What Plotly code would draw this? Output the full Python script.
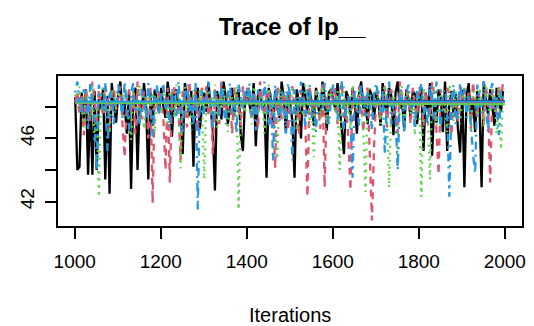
import plotly.graph_objects as go

# Iterations sampled every 5 draws (1001 .. 1996)
iterations = list(range(1001, 2001, 5))

chain1 = [
    48.6, 44.0, 44.2, 48.9, 47.2, 49.1, 43.7, 48.4, 43.7, 49.0, 44.0, 48.5, 47.8, 49.2, 43.4, 48.7, 42.5, 49.5, 48.1, 47.0,
    48.8, 49.6, 47.5, 48.2, 46.3, 49.0, 42.8, 48.6, 49.2, 44.0, 48.3, 47.7, 49.5, 48.0, 43.4, 48.9, 46.8, 49.1, 48.4, 47.6,
    49.2, 48.0, 47.3, 49.6, 48.5, 46.1, 48.8, 49.1, 47.9, 48.3, 45.0, 49.5, 48.6, 47.4, 49.0, 44.2, 48.7, 49.2, 46.6, 48.1,
    48.9, 47.7, 49.5, 48.2, 46.5, 42.7, 49.0, 48.4, 47.2, 49.6, 48.6, 46.9, 48.0, 49.2, 47.5, 48.8, 49.1, 46.2, 45.2, 48.5,
    49.0, 48.3, 47.4, 49.5, 45.5, 48.7, 49.1, 47.8, 48.2, 43.5, 49.2, 48.5, 46.7, 49.0, 48.1, 47.3, 49.6, 48.6, 46.4, 48.9,
    48.2, 47.1, 43.5, 49.1, 48.4, 46.0, 49.5, 48.7, 47.6, 49.0, 48.3, 46.8, 49.2, 48.0, 47.4, 49.6, 48.6, 46.5, 48.9, 49.1,
    48.5, 47.8, 49.5, 48.1, 46.7, 45.0, 49.0, 48.6, 47.5, 49.2, 48.4, 46.3, 48.8, 49.6, 47.9, 48.2, 46.9, 49.1, 48.7, 47.2,
    49.0, 48.4, 46.8, 49.5, 48.1, 47.6, 49.2, 48.7, 46.2, 48.9, 49.6, 47.9, 48.3, 46.6, 49.1, 48.5, 47.3, 49.0, 48.8, 46.9,
    48.6, 49.2, 45.2, 48.9, 47.7, 49.5, 44.9, 48.4, 47.0, 49.1, 48.6, 46.4, 49.6, 45.2, 48.2, 49.0, 47.4, 48.8, 46.6, 45.1,
    49.1, 42.9, 48.7, 49.5, 47.2, 48.5, 46.4, 49.0, 48.2, 42.9, 49.6, 48.6, 47.5, 49.1, 48.0, 46.8, 49.2, 48.4, 47.7, 49.0,
]

chain2 = [
    48.3, 49.0, 47.5, 48.7, 46.2, 49.2, 48.0, 47.1, 49.6, 48.5, 46.8, 49.1, 48.2, 47.4, 49.3, 48.6, 46.5, 48.9, 49.2, 47.8,
    48.6, 49.3, 46.9, 44.8, 48.4, 49.1, 47.6, 48.8, 46.3, 49.6, 48.0, 47.2, 49.0, 48.5, 46.0, 49.2, 41.9, 48.7, 47.9, 49.1,
    48.4, 47.3, 44.0, 49.2, 43.2, 48.8, 49.3, 47.5, 48.1, 44.6, 49.0, 48.6, 46.7, 49.6, 48.2, 47.8, 49.1, 46.4, 48.7, 49.2,
    48.0, 49.3, 47.4, 48.6, 45.0, 49.1, 48.4, 46.9, 49.6, 48.2, 47.6, 49.0, 48.7, 46.3, 49.2, 48.5, 47.9, 46.8, 49.3, 48.1,
    49.2, 48.6, 47.3, 49.0, 48.3, 46.6, 49.6, 48.0, 47.5, 48.8, 49.1, 46.9, 48.4, 44.1, 49.3, 48.7, 47.2, 49.0, 48.2, 46.5,
    48.9, 49.3, 47.6, 48.4, 46.2, 49.1, 48.7, 47.0, 42.3, 49.2, 48.5, 47.4, 49.0, 48.1, 46.6, 49.6, 42.9, 48.6, 47.8, 49.1,
    48.3, 49.2, 46.9, 48.7, 49.6, 47.3, 48.0, 46.1, 42.7, 49.1, 48.5, 47.7, 49.3, 48.2, 46.4, 48.9, 49.2, 44.5, 40.8, 45.5,
    48.6, 49.0, 47.2, 48.4, 49.3, 46.7, 48.8, 49.1, 47.5, 48.2, 46.3, 49.6, 48.7, 47.8, 49.0, 48.4, 46.9, 49.2, 48.0, 47.4,
    49.3, 48.5, 46.8, 49.0, 48.2, 47.3, 49.6, 48.7, 46.5, 43.7, 49.1, 48.3, 47.6, 49.2, 48.8, 46.2, 49.0, 48.4, 47.1, 49.3,
    48.5, 49.2, 47.7, 48.9, 46.6, 49.6, 48.1, 47.4, 49.0, 48.6, 46.9, 49.3, 48.2, 43.2, 49.1, 48.7, 47.5, 49.4, 48.3, 49.6,
]

chain3 = [
    48.8, 47.9, 49.3, 48.1, 46.7, 49.0, 48.5, 47.2, 49.4, 45.8, 48.3, 42.3, 48.9, 49.2, 47.6, 48.4, 46.3, 49.1, 48.7, 47.8,
    49.0, 48.2, 47.4, 49.3, 48.6, 46.9, 45.9, 49.1, 48.0, 47.5, 49.4, 48.7, 46.6, 48.3, 49.2, 47.7, 48.9, 46.4, 49.0, 48.4,
    47.6, 49.2, 48.5, 46.8, 49.0, 48.3, 47.3, 49.4, 48.7, 44.1, 48.1, 49.3, 47.5, 48.8, 46.5, 49.1, 48.4, 47.9, 49.2, 48.0,
    43.4, 48.6, 49.1, 47.4, 48.3, 49.4, 46.7, 48.9, 47.8, 49.2, 48.0, 46.4, 49.0, 48.5, 47.2, 49.3, 41.5, 48.2, 48.8, 47.6,
    49.1, 48.4, 46.9, 49.3, 48.7, 47.5, 48.1, 49.0, 46.3, 48.6, 49.4, 47.8, 48.2, 46.6, 44.7, 49.2, 48.5, 47.1, 49.0, 48.3,
    47.7, 49.2, 48.6, 46.5, 49.0, 48.2, 47.4, 49.4, 48.8, 46.8, 48.0, 44.8, 49.1, 48.5, 47.3, 49.3, 48.1, 46.9, 48.7, 49.2,
    48.4, 47.6, 49.0, 44.0, 48.8, 49.3, 47.2, 48.1, 46.6, 49.4, 48.6, 47.8, 49.1, 48.3, 46.4, 42.6, 48.9, 49.2, 47.5, 48.0,
    49.2, 48.5, 46.9, 48.8, 49.4, 47.3, 42.9, 48.1, 49.0, 47.7, 44.3, 48.6, 49.3, 46.6, 48.3, 49.1, 47.5, 48.7, 46.2, 49.0,
    48.4, 42.3, 49.2, 48.0, 47.4, 43.4, 48.9, 49.3, 46.8, 48.5, 49.1, 47.6, 48.2, 46.4, 49.4, 48.7, 47.1, 49.0, 48.3, 46.9,
    48.6, 49.3, 47.8, 48.1, 46.5, 49.0, 48.7, 47.4, 49.2, 48.4, 46.7, 49.4, 48.0, 47.6, 49.1, 48.5, 46.3, 49.2, 45.3, 48.8,
]

chain4 = [
    48.9, 49.6, 48.2, 47.5, 49.1, 48.7, 46.6, 49.5, 48.4, 47.0, 43.9, 49.4, 48.6, 47.7, 49.5, 45.2, 48.8, 49.0, 46.9, 48.3,
    49.4, 48.5, 47.3, 49.6, 48.0, 46.5, 48.9, 49.5, 47.8, 48.4, 46.8, 49.1, 48.7, 47.2, 49.5, 48.2, 46.1, 48.9, 49.4, 47.6,
    48.6, 49.5, 47.9, 48.3, 46.7, 49.1, 48.8, 47.4, 49.6, 48.1, 46.4, 48.7, 49.4, 47.7, 48.5, 46.9, 49.5, 41.5, 48.4, 49.0,
    47.5, 48.9, 49.6, 48.2, 46.6, 49.1, 48.6, 47.3, 49.5, 48.0, 46.9, 48.8, 49.5, 47.6, 48.4, 46.3, 49.4, 48.7, 47.9, 49.0,
    48.3, 49.5, 47.4, 48.8, 46.5, 49.1, 48.5, 47.8, 49.6, 48.1, 46.8, 48.9, 44.6, 49.4, 48.4, 47.1, 49.0, 48.6, 46.3, 49.5,
    48.7, 44.6, 49.1, 48.2, 47.5, 49.6, 48.6, 46.7, 48.9, 49.4, 47.3, 48.4, 46.4, 49.0, 48.8, 47.7, 49.5, 48.1, 46.9, 48.5,
    49.4, 48.4, 47.2, 48.9, 49.6, 46.6, 48.1, 48.7, 47.5, 43.5, 49.1, 48.3, 46.8, 49.5, 48.6, 47.4, 49.0, 48.2, 46.5, 48.8,
    49.5, 48.5, 47.7, 49.0, 45.0, 48.7, 49.6, 46.9, 48.2, 47.4, 44.0, 49.1, 48.6, 46.3, 48.9, 49.4, 47.8, 48.4, 46.6, 49.0,
    48.6, 49.5, 47.5, 48.1, 46.8, 49.4, 48.7, 47.2, 49.6, 48.3, 46.5, 48.9, 49.1, 47.6, 42.3, 48.5, 49.4, 46.9, 48.0, 49.5,
    48.4, 49.1, 47.3, 48.8, 46.7, 45.0, 43.8, 49.4, 48.5, 47.6, 49.6, 48.1, 46.4, 48.9, 49.5, 47.8, 48.6, 46.2, 49.0, 48.5,
]

# Smoothed (lowess-like) lines
smooth_iter = [1001, 1500, 2000]
smooth1 = [48.28, 48.30, 48.36]
smooth2 = [48.22, 48.26, 48.30]
smooth3 = [48.25, 48.22, 48.16]
smooth4 = [48.33, 48.35, 48.33]

x_ticks = [1000, 1200, 1400, 1600, 1800, 2000]
y_ticks = [42, 44, 46, 48]
y_tick_labels = ["42", "", "46", ""]

colors = ["#000000", "#DF536B", "#61D04F", "#2297E6"]
dashes = ["solid", "7px,6px", "2px,5px", "2px,5px,8px,5px"]
chains = [chain1, chain2, chain3, chain4]
smooths = [smooth1, smooth2, smooth3, smooth4]

fig = go.Figure()
for ch, c, d in zip(chains, colors, dashes):
    fig.add_trace(go.Scatter(x=iterations, y=ch, mode="lines",
                             line=dict(color=c, width=2.3, dash=d),
                             showlegend=False, hoverinfo="skip"))
for sm, c in zip(smooths, colors):
    fig.add_trace(go.Scatter(x=smooth_iter, y=sm, mode="lines",
                             line=dict(color=c, width=2),
                             showlegend=False, hoverinfo="skip"))

allv = [v for ch in chains for v in ch]
ymin, ymax = min(allv), max(allv)
pad = 0.04 * (ymax - ymin)
xmin, xmax = 1001, 2000
xpad = 0.04 * (xmax - xmin)

font_family = "Liberation Sans, Arial, Helvetica, sans-serif"

fig.update_layout(
    width=534, height=326,
    margin=dict(l=58, r=8, t=76, b=100),
    paper_bgcolor="white", plot_bgcolor="white",
    font=dict(family=font_family, size=19, color="black"),
    title=dict(text="<b>Trace of lp__</b>", x=292 / 534, xanchor="center",
               y=1 - 27 / 326, yanchor="middle",
               font=dict(size=24, family=font_family, color="black")),
    annotations=[dict(text="Iterations", xref="paper", yref="paper",
                      x=0.5, y=(226 - 315) / 150, xanchor="center", yanchor="middle",
                      showarrow=False, font=dict(size=20, family=font_family))],
)
fig.update_xaxes(range=[xmin - xpad, xmax + xpad], tickvals=x_ticks,
                 ticks="outside", ticklen=11, tickwidth=1.5, tickcolor="black",
                 showline=True, linecolor="black", linewidth=1.5, mirror=True,
                 showgrid=False, zeroline=False, ticklabelstandoff=6,
                 tickfont=dict(size=19))
fig.update_yaxes(range=[ymin - pad, ymax + pad], tickvals=y_ticks, ticktext=y_tick_labels,
                 tickangle=-90, ticks="outside", ticklen=11, tickwidth=1.5, tickcolor="black",
                 showline=True, linecolor="black", linewidth=1.5, mirror=True,
                 showgrid=False, zeroline=False, ticklabelstandoff=4,
                 tickfont=dict(size=19))

fig.write_html("out.html")
